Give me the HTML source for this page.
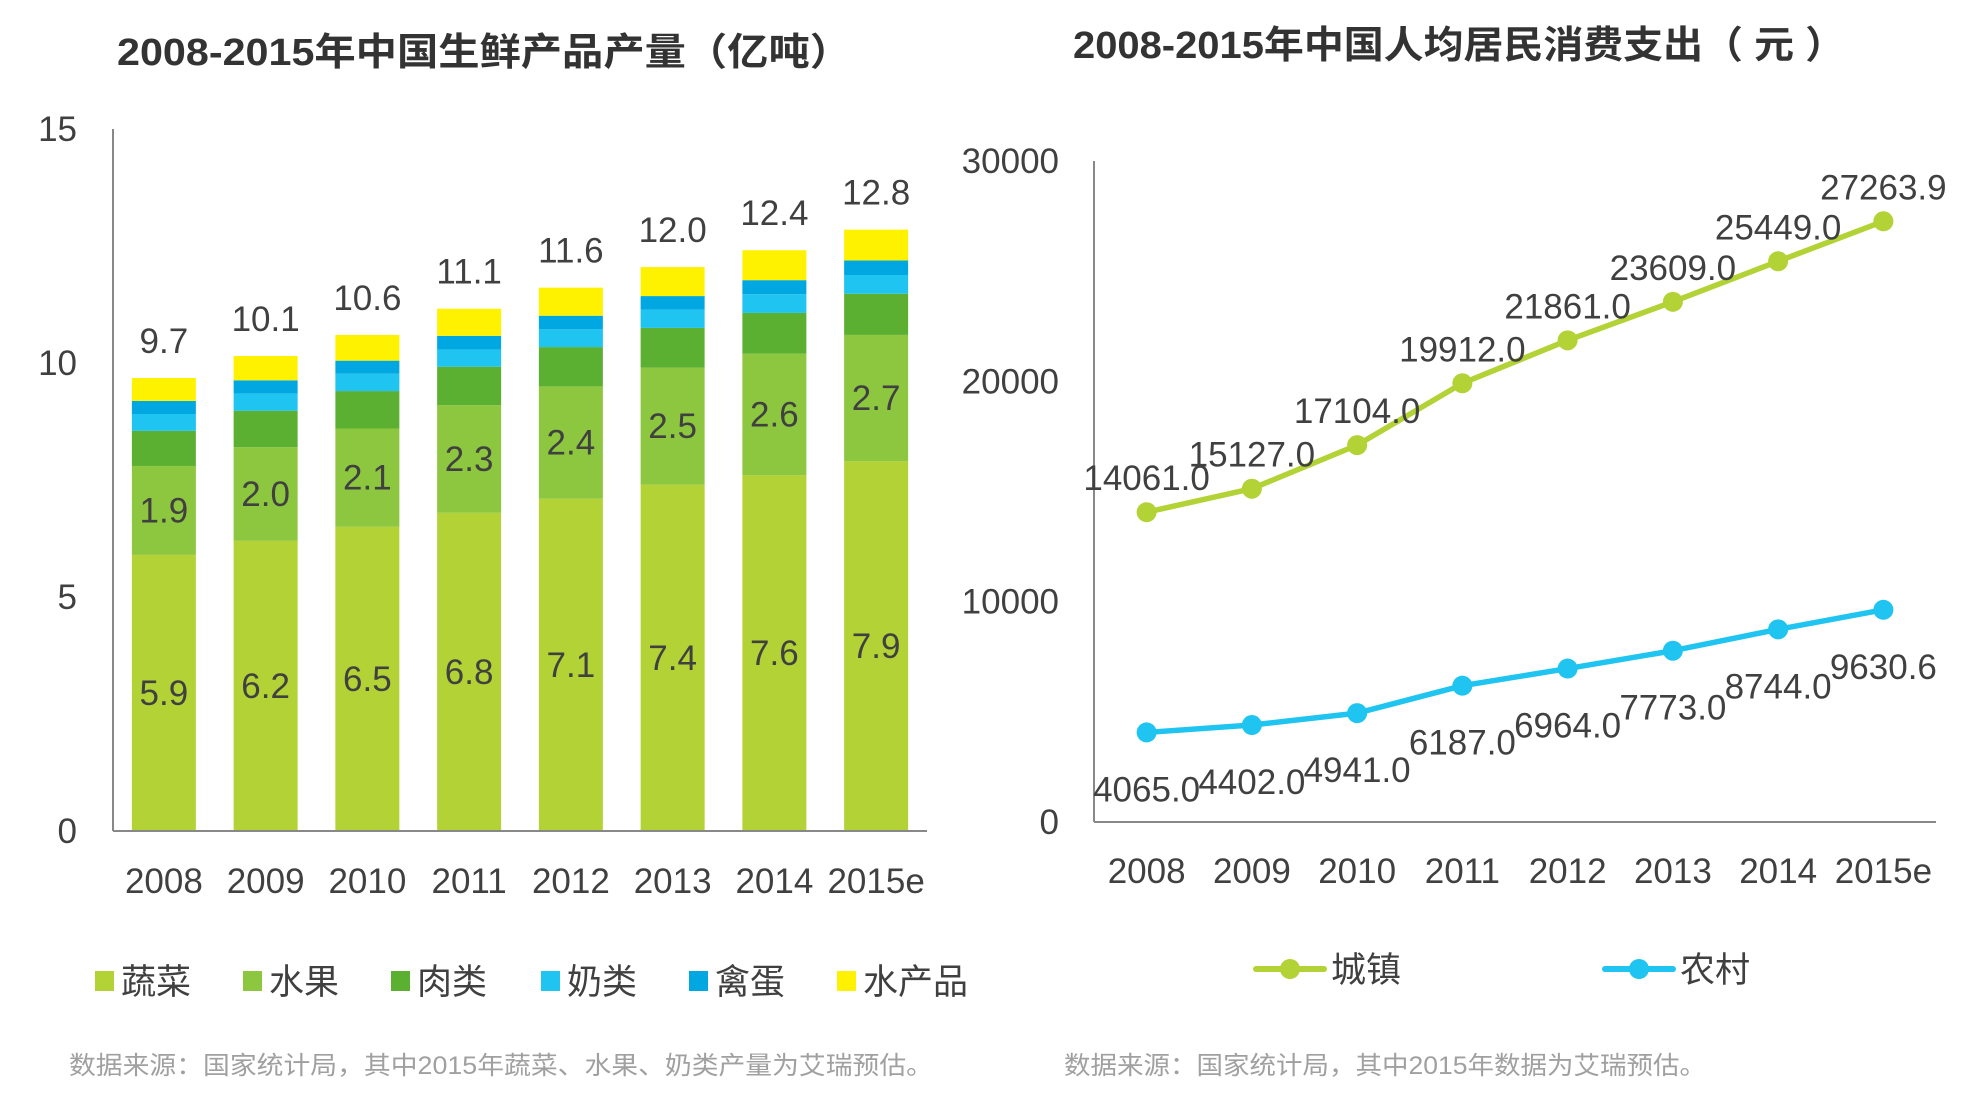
<!DOCTYPE html>
<html><head><meta charset="utf-8"><style>
html,body{margin:0;padding:0;background:#fff;}
svg{display:block;font-family:"Liberation Sans","Noto Sans CJK SC",sans-serif;}
</style></head><body>
<svg id="c" width="1977" height="1095" viewBox="0 0 1977 1095" xmlns="http://www.w3.org/2000/svg">
<text x="484" y="65" text-anchor="middle" font-size="38" font-weight="bold" fill="#333" textLength="734" lengthAdjust="spacingAndGlyphs">2008-2015年中国生鲜产品产量（亿吨）</text>
<text x="1459" y="58" text-anchor="middle" font-size="38" font-weight="bold" fill="#333" textLength="772" lengthAdjust="spacingAndGlyphs">2008-2015年中国人均居民消费支出（ 元 ）</text>
<g id="left"></g>
<g id="right"></g>
<text x="69" y="1074" font-size="25" fill="#a0a0a0" textLength="864" lengthAdjust="spacingAndGlyphs">数据来源：国家统计局，其中2015年蔬菜、水果、奶类产量为艾瑞预估。</text>
<text x="1064" y="1074" font-size="25" fill="#a0a0a0" textLength="642" lengthAdjust="spacingAndGlyphs">数据来源：国家统计局，其中2015年数据为艾瑞预估。</text>
</svg>
<script>
const years = ["2008","2009","2010","2011","2012","2013","2014","2015e"];
const veg = [5.9,6.2,6.5,6.8,7.1,7.4,7.6,7.9];
const fruit = [1.9,2.0,2.1,2.3,2.4,2.5,2.6,2.7];
const meat = [0.75,0.78,0.8,0.82,0.84,0.85,0.87,0.88];
const milk = [0.36,0.37,0.37,0.37,0.38,0.39,0.4,0.4];
const egg = [0.28,0.28,0.28,0.29,0.29,0.29,0.3,0.31];
const aqua = [0.49,0.52,0.55,0.58,0.6,0.62,0.64,0.66];
const totals = ["9.7","10.1","10.6","11.1","11.6","12.0","12.4","12.8"];
const leftTicks = [0,5,10,15];
const urban = [14061.0,15127.0,17104.0,19912.0,21861.0,23609.0,25449.0,27263.9];
const rural = [4065.0,4402.0,4941.0,6187.0,6964.0,7773.0,8744.0,9630.6];
const rightTicks = [0,10000,20000,30000];

const NS="http://www.w3.org/2000/svg";
function mk(parent,tag,attrs,text){const e=document.createElementNS(NS,tag);for(const k in attrs)e.setAttribute(k,attrs[k]);if(text!==undefined)e.textContent=text;parent.appendChild(e);return e;}
const TXT="#404040";
const FS=35;

// LEFT
const L=document.getElementById('left');
const lx0=113,lx1=927,ly0=831,ly1=129,lmax=15;
const ly=v=>ly0-(v/lmax)*(ly0-ly1);
const bw=(lx1-lx0)/years.length;
const lxc=i=>lx0+bw*(i+0.5);
leftTicks.forEach(t=>{const e=mk(L,'text',{x:77,y:ly(t)+12,'text-anchor':'end','font-size':FS,fill:TXT},String(t));

});
const series=[["veg",veg,"#b2d235"],["fruit",fruit,"#8dc63f"],["meat",meat,"#5bb031"],["milk",milk,"#1fc4f0"],["egg",egg,"#00a7e1"],["aqua",aqua,"#fff200"]];
years.forEach((yr,i)=>{
  let base=0;
  series.forEach(([nm,arr,col])=>{
    const v=arr[i];
    const r=mk(L,'rect',{x:lxc(i)-32,y:ly(base+v),width:64,height:ly(base)-ly(base+v),fill:col});
    
    
    if(nm==="veg"||nm==="fruit"){
      const t=mk(L,'text',{x:lxc(i),y:(ly(base)+ly(base+v))/2+12,'text-anchor':'middle','font-size':FS,fill:TXT},v.toFixed(1));
      
      
    }
    base+=v;
  });
  const t=mk(L,'text',{x:lxc(i),y:ly(base)-25,'text-anchor':'middle','font-size':FS,fill:TXT},totals[i]);
  
  
  const xl=mk(L,'text',{x:lxc(i),y:893,'text-anchor':'middle','font-size':FS,fill:TXT},yr);
  
  
});
const la1=mk(L,'line',{x1:lx0,y1:ly1,x2:lx0,y2:ly0,stroke:'#888','stroke-width':2});


const la2=mk(L,'line',{x1:lx0,y1:ly0,x2:lx1,y2:ly0,stroke:'#888','stroke-width':2});


const legNames=["蔬菜","水果","肉类","奶类","禽蛋","水产品"];
const legX=[95,243,391,541,689,837];
series.forEach(([nm,arr,col],k)=>{
  const g=mk(L,'g',{});
  
  
  mk(g,'rect',{x:legX[k],y:971,width:19,height:20,fill:col});
  mk(g,'text',{x:legX[k]+26,y:994,'font-size':FS,fill:TXT},legNames[k]);
});

// RIGHT
const R=document.getElementById('right');
const rx0=1094,rx1=1936,ry0=822,ry1=161,rmax=30000;
const ry=v=>ry0-(v/rmax)*(ry0-ry1);
const cw=(rx1-rx0)/years.length;
const rxc=i=>rx0+cw*(i+0.5);
rightTicks.forEach(t=>{const e=mk(R,'text',{x:1059,y:ry(t)+12,'text-anchor':'end','font-size':FS,fill:TXT},String(t));

});
const ra1=mk(R,'line',{x1:rx0,y1:ry1,x2:rx0,y2:ry0,stroke:'#888','stroke-width':2});


const ra2=mk(R,'line',{x1:rx0,y1:ry0,x2:rx1,y2:ry0,stroke:'#888','stroke-width':2});


years.forEach((yr,i)=>{const e=mk(R,'text',{x:rxc(i),y:883,'text-anchor':'middle','font-size':FS,fill:TXT},yr);

});
[["urban",urban,"#b2d235",-34],["rural",rural,"#1fc4f0",57]].forEach(([nm,arr,col,off])=>{
  const pl=mk(R,'polyline',{points:arr.map((v,i)=>rxc(i)+','+ry(v)).join(' '),fill:'none',stroke:col,'stroke-width':5.5,'stroke-linejoin':'round'});
  
  
  arr.forEach((v,i)=>{
    const c=mk(R,'circle',{cx:rxc(i),cy:ry(v),r:10,fill:col});
    
    
    const t=mk(R,'text',{x:rxc(i),y:ry(v)+off+12,'text-anchor':'middle','font-size':FS,fill:TXT},v.toFixed(1));
    
    
  });
});
[["urban","城镇","#b2d235",1256],["rural","农村","#1fc4f0",1605]].forEach(([nm,lab,col,x])=>{
  const g=mk(R,'g',{});
  
  
  mk(g,'line',{x1:x,y1:969,x2:x+68,y2:969,stroke:col,'stroke-width':6,'stroke-linecap':'round'});
  mk(g,'circle',{cx:x+34,cy:969,r:10,fill:col});
  mk(g,'text',{x:x+75,y:982,'font-size':FS,fill:TXT},lab);
});
</script>
</body></html>
